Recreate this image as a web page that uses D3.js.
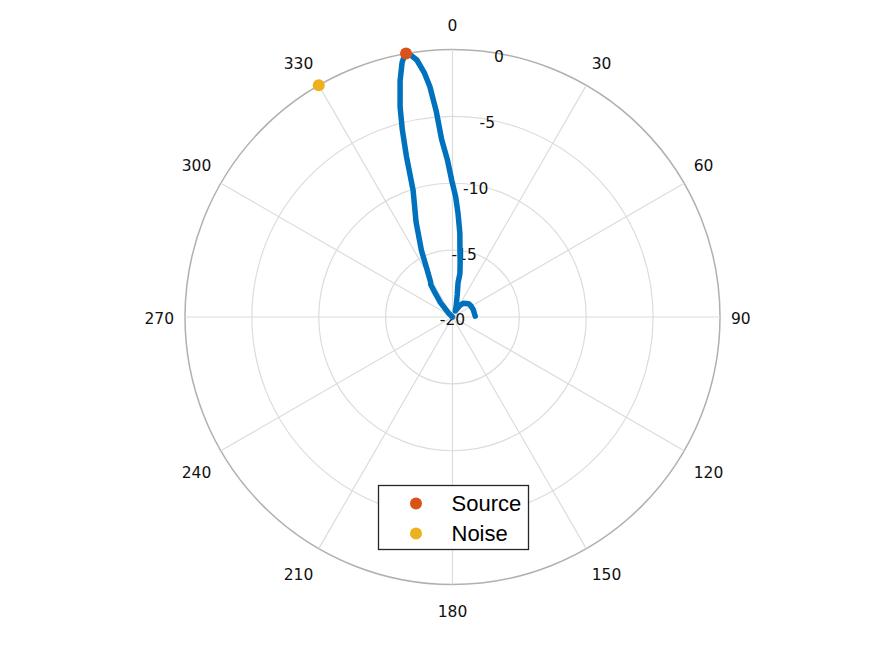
<!DOCTYPE html>
<html>
<head>
<meta charset="utf-8">
<script src="https://d3js.org/d3.v7.min.js"></script>
<style>
    body { margin: 0; background: #fff; }
    svg { display: block; }
</style>
</head>
<body>
<svg id="chart"></svg>
<script>
// angular ticks (degrees, clockwise from top) and radial ticks (dB)
var angleTicks = [0, 30, 60, 90, 120, 150, 180, 210, 240, 270, 300, 330];
var rTicks = [0, -5, -10, -15, -20];

// beam pattern: look angle (deg) and response (dB)
var beamAngles = [-90, -60, -45, -40, -36, -34, -32, -28, -25, -21, -17.3, -16, -15, -14, -12.5, -11.2, -10.2,
    -9, -7.9, -6.6, -5.6, -4.5, -3.5, -1.8, -0.3, 1.5, 3, 5, 6.4, 8, 9.7, 9.2, 12, 18, 25, 32, 38, 50, 58, 70, 88];
var beamDb = [-20, -20, -19.6, -18.6, -17.8, -17.1, -16.9, -15.9, -14.5, -12.4, -10.1, -7.5, -5.5, -3.8, -1.9, -0.6, 0,
    -0.2, -0.6, -1.6, -2.7, -4.6, -6.7, -8.3, -9.8, -11.0, -12.2, -13.7, -15, -15.9, -16.7, -17.4, -18.3, -19.1, -19.5, -19.0, -18.7, -18.45, -18.4, -18.35, -18.3];

// point sources
var markerNames = ["Source", "Noise"];
var markerAngles = [350, 330];
var markerDb = [0, 0];
var markerColors = ["#D95319", "#EDB120"];

var width = 875, height = 656;
var cx = 452.5, cy = 317, outerR = 267.5;

var svg = d3.select("#chart")
    .attr("width", width)
    .attr("height", height);

var g = svg.append("g")
    .attr("transform", "translate(" + cx + "," + cy + ")");

var rScale = d3.scaleLinear()
    .domain([-20, 0])
    .range([0, outerR])
    .clamp(true);

var rad = function (deg) { return deg * Math.PI / 180; };

// rings
g.selectAll(".ring")
    .data(rTicks.filter(function (d) { return d > -20; }))
    .enter().append("circle")
    .attr("class", "ring")
    .attr("r", function (d) { return rScale(d); })
    .attr("fill", "none")
    .attr("stroke", function (d) { return d === 0 ? "#b0b0b0" : "#dcdcdc"; })
    .attr("stroke-width", function (d) { return d === 0 ? 1.5 : 1.2; });

// spokes
g.selectAll(".spoke")
    .data(angleTicks)
    .enter().append("line")
    .attr("class", "spoke")
    .attr("x1", 0).attr("y1", 0)
    .attr("x2", function (d) { return outerR * Math.sin(rad(d)); })
    .attr("y2", function (d) { return -outerR * Math.cos(rad(d)); })
    .attr("stroke", "#dcdcdc")
    .attr("stroke-width", 1.2);

var labelFont = "'DejaVu Sans', sans-serif";

// angle labels: text box corner sits on a circle just outside the axis
var angLabels = g.selectAll(".angLabel")
    .data(angleTicks)
    .enter().append("text")
    .attr("class", "angLabel")
    .attr("dy", "0.35em")
    .attr("text-anchor", "middle")
    .style("font-family", labelFont)
    .style("font-size", "15.5px")
    .attr("fill", "#111")
    .text(function (d) { return d; });

angLabels.each(function (d) {
    var hw = this.getComputedTextLength() / 2;
    var s = Math.sin(rad(d)), c = Math.cos(rad(d));
    var sx = Math.abs(s) < 1e-6 ? 0 : Math.sign(s);
    var sy = Math.abs(c) < 1e-6 ? 0 : Math.sign(c);
    var r0 = outerR + 11;
    d3.select(this)
        .attr("x", r0 * s + hw * sx)
        .attr("y", -(r0 * c + 14.5 * sy) + 2);
});

// radial labels along 10 deg
g.selectAll(".rLabel")
    .data(rTicks)
    .enter().append("text")
    .attr("class", "rLabel")
    .attr("x", function (d) { return rScale(d) * Math.sin(rad(10)); })
    .attr("y", function (d) { return -rScale(d) * Math.cos(rad(10)) + 3; })
    .attr("dy", "0.35em")
    .attr("text-anchor", "middle")
    .style("font-family", labelFont)
    .style("font-size", "15.5px")
    .attr("fill", "#111")
    .text(function (d) { return d; });

// beam pattern
var beam = d3.zip(beamAngles, beamDb);
var line = d3.lineRadial()
    .angle(function (d) { return rad(d[0]); })
    .radius(function (d) { return rScale(d[1]); });

g.append("path")
    .datum(beam)
    .attr("fill", "none")
    .attr("stroke", "#0072BD")
    .attr("stroke-width", 5.5)
    .attr("stroke-linejoin", "round")
    .attr("stroke-linecap", "round")
    .attr("d", line);

// source / noise markers
g.selectAll(".marker")
    .data(markerNames)
    .enter().append("circle")
    .attr("class", "marker")
    .attr("cx", function (d, i) { return rScale(markerDb[i]) * Math.sin(rad(markerAngles[i])); })
    .attr("cy", function (d, i) { return -rScale(markerDb[i]) * Math.cos(rad(markerAngles[i])); })
    .attr("r", 6)
    .attr("fill", function (d, i) { return markerColors[i]; });

// legend
var legend = svg.append("g")
    .attr("transform", "translate(378.5,485.5)");

legend.append("rect")
    .attr("width", 150)
    .attr("height", 64)
    .attr("fill", "#fff")
    .attr("stroke", "#262626")
    .attr("stroke-width", 1.3);

var items = legend.selectAll(".item")
    .data(markerNames)
    .enter().append("g")
    .attr("class", "item")
    .attr("transform", function (d, i) { return "translate(0," + (18 + i * 30) + ")"; });

items.append("circle")
    .attr("cx", 37.5)
    .attr("cy", 0)
    .attr("r", 6)
    .attr("fill", function (d, i) { return markerColors[i]; });

items.append("text")
    .attr("x", 73)
    .attr("y", 0)
    .attr("dy", "0.35em")
    .style("font-family", "'Liberation Sans', Arial, sans-serif")
    .style("font-size", "22px")
    .attr("fill", "#000")
    .text(function (d) { return d; });
</script>
</body>
</html>
